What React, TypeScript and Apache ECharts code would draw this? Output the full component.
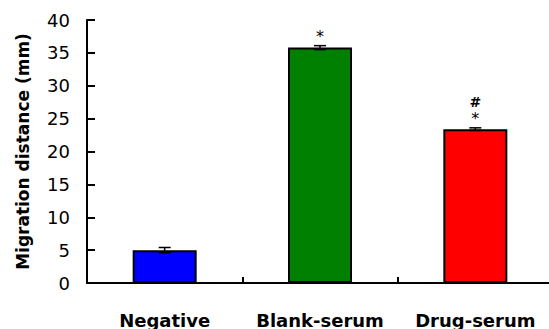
import React, { useEffect, useRef } from "react";
import * as echarts from "echarts";

const categories = ["Negative", "Blank-serum", "Drug-serum"];
const values = [5.0, 35.8, 23.4];
const errors = [0.4, 0.3, 0.2];
const barColors = ["#0000FF", "#008000", "#FF0000"];
const starMarks = ["", "*", "*"];
const hashMarks = ["", "", "#"];
const yTicks = { min: 0, max: 40, interval: 5 };

export default function App() {
  const ref = useRef<HTMLDivElement>(null);
  useEffect(() => {
    document.body.style.margin = "0";
    document.body.style.overflow = "hidden";
    const chart = echarts.init(ref.current!, null, { renderer: "svg" });
    const font = "'DejaVu Sans', Arial, sans-serif";
    chart.setOption({
      animation: false,
      backgroundColor: "#ffffff",
      grid: { left: 87, top: 20, bottom: 46, right: 0, containLabel: false },
      xAxis: {
        type: "category",
        data: categories,
        axisLine: { lineStyle: { color: "#000", width: 2 } },
        axisTick: { show: true, inside: true, length: 6, alignWithLabel: false, lineStyle: { color: "#000", width: 2 } },
        axisLabel: { color: "#000", fontFamily: font, fontWeight: "bold", fontSize: 18, margin: 28, interval: 0 },
        splitLine: { show: false },
      },
      yAxis: {
        type: "value",
        min: yTicks.min,
        max: yTicks.max,
        interval: yTicks.interval,
        name: "Migration distance (mm)",
        nameLocation: "middle",
        nameGap: 56,
        nameTextStyle: { color: "#000", fontFamily: font, fontWeight: "bold", fontSize: 17 },
        axisLine: { show: true, lineStyle: { color: "#000", width: 2 } },
        axisTick: { show: true, inside: true, length: 8, lineStyle: { color: "#000", width: 2 } },
        axisLabel: { color: "#000", fontFamily: font, fontSize: 18, margin: 17 },
        splitLine: { show: false },
      },
      series: [
        {
          type: "bar",
          barWidth: 64,
          data: values.map((v, i) => ({
            value: v,
            itemStyle: { color: barColors[i], borderColor: "#000", borderWidth: 2 },
          })),
        },
        {
          type: "custom",
          z: 10,
          data: values.map((v, i) => [i, v, errors[i]]),
          renderItem: (params: any, api: any) => {
            const i = api.value(0);
            const v = api.value(1);
            const e = api.value(2);
            const hi = api.coord([i, v + e]);
            const lo = api.coord([i, v - e]);
            const cap = 6;
            const style = { stroke: "#000", lineWidth: 1.5 };
            const children: any[] = [
              { type: "line", shape: { x1: hi[0], y1: hi[1], x2: lo[0], y2: lo[1] }, style },
              { type: "line", shape: { x1: hi[0] - cap, y1: hi[1], x2: hi[0] + cap, y2: hi[1] }, style },
              { type: "line", shape: { x1: lo[0] - cap, y1: lo[1], x2: lo[0] + cap, y2: lo[1] }, style },
            ];
            const star = starMarks[params.dataIndex];
            const hash = hashMarks[params.dataIndex];
            if (star) {
              children.push({
                type: "text",
                x: hi[0],
                y: hi[1] - 9,
                style: { text: star, fill: "#000", font: `16px ${font}`, align: "center", verticalAlign: "middle" },
              });
            }
            if (hash) {
              children.push({
                type: "text",
                x: hi[0],
                y: hi[1] - 26,
                style: { text: hash, fill: "#000", font: `bold 14px ${font}`, align: "center", verticalAlign: "middle" },
              });
            }
            return { type: "group", children };
          },
        },
      ],
    });
    return () => chart.dispose();
  }, []);
  return <div ref={ref} style={{ width: 553, height: 329 }} />;
}
